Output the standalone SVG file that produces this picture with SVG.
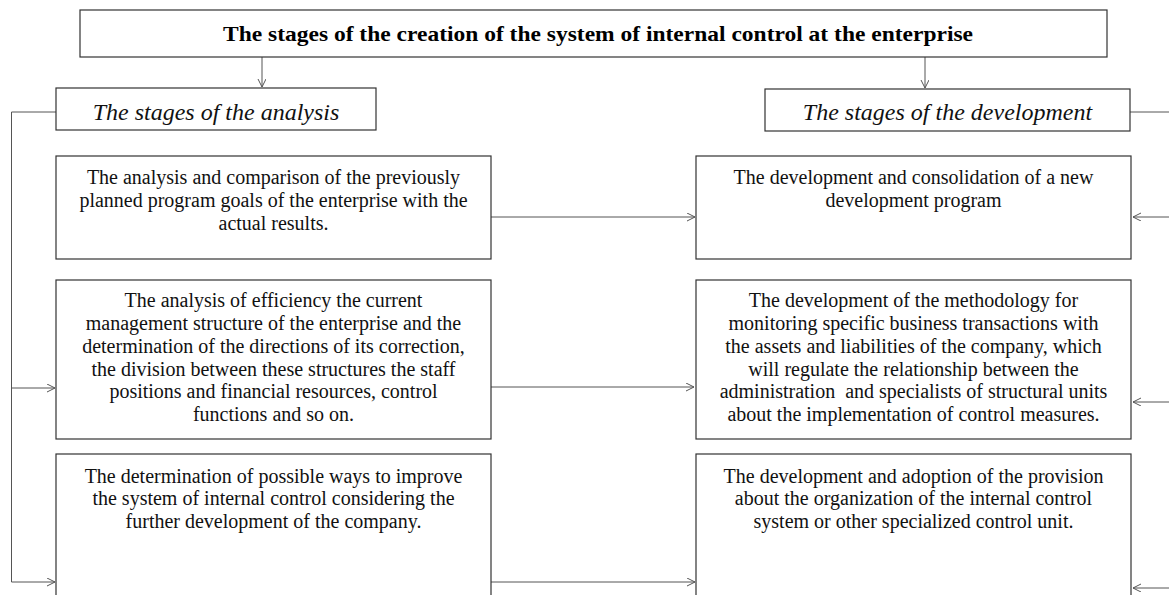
<svg xmlns="http://www.w3.org/2000/svg" width="1169" height="595" viewBox="0 0 1169 595">
<style>
.box{fill:#fff;stroke:#333;stroke-width:1.2}
.t{font-family:"Liberation Serif","Times New Roman",serif;font-size:20px;fill:#111;text-anchor:middle}
.h{font-family:"Liberation Serif","Times New Roman",serif;font-size:24px;font-style:italic;fill:#111;text-anchor:middle}
.ttl{font-family:"Liberation Serif","Times New Roman",serif;font-size:22px;font-weight:bold;fill:#000;text-anchor:middle}
.c{fill:none;stroke:#555;stroke-width:1}
</style>
<defs>
<marker id="ah" markerUnits="userSpaceOnUse" markerWidth="10" markerHeight="10" refX="8" refY="4" orient="auto">
<path d="M0,0 L8,4 L0,8" fill="none" stroke="#555" stroke-width="1"/>
</marker>
</defs>
<rect width="1169" height="595" fill="#fff"/>
<g id="connectors">
<path class="c" d="M262,57 V87" marker-end="url(#ah)"/>
<path class="c" d="M925,57 V88" marker-end="url(#ah)"/>
<path class="c" d="M56,112 H11.5 V582 H55" marker-end="url(#ah)"/>
<path class="c" d="M11.5,388 H55" marker-end="url(#ah)"/>
<path class="c" d="M1130,112 H1175"/>
<path class="c" d="M491,217 H695" marker-end="url(#ah)"/>
<path class="c" d="M491,387 H694" marker-end="url(#ah)"/>
<path class="c" d="M491,582 H695" marker-end="url(#ah)"/>
<path class="c" d="M1175,217 H1133" marker-end="url(#ah)"/>
<path class="c" d="M1175,402 H1133" marker-end="url(#ah)"/>
<path class="c" d="M1175,588 H1133" marker-end="url(#ah)"/>
</g>
<g id="title">
<rect class="box" x="80" y="10" width="1027" height="47"/>
<text class="ttl" x="598" y="40.5" textLength="750" lengthAdjust="spacingAndGlyphs">The stages of the creation of the system of internal control at the enterprise</text>
</g>
<g id="analysis-header">
<rect class="box" x="56" y="88" width="320" height="42"/>
<text class="h" x="216" y="120">The stages of the analysis</text>
</g>
<g id="development-header">
<rect class="box" x="765" y="89" width="365" height="42"/>
<text class="h" x="947.5" y="120">The stages of the development</text>
</g>
<g id="analysis-1">
<rect class="box" x="56" y="156" width="435" height="103"/>
<text class="t" x="273.5" y="184">The analysis and comparison of the previously</text>
<text class="t" x="273.5" y="207">planned program goals of the enterprise with the</text>
<text class="t" x="273.5" y="230">actual results.</text>
</g>
<g id="analysis-2">
<rect class="box" x="56" y="280" width="435" height="159"/>
<text class="t" x="273.5" y="307">The analysis of efficiency the current</text>
<text class="t" x="273.5" y="330">management structure of the enterprise and the</text>
<text class="t" x="273.5" y="353">determination of the directions of its correction,</text>
<text class="t" x="273.5" y="376">the division between these structures the staff</text>
<text class="t" x="273.5" y="398">positions and financial resources, control</text>
<text class="t" x="273.5" y="421">functions and so on.</text>
</g>
<g id="analysis-3">
<rect class="box" x="56" y="454" width="435" height="160"/>
<text class="t" x="273.5" y="483">The determination of possible ways to improve</text>
<text class="t" x="273.5" y="505">the system of internal control considering the</text>
<text class="t" x="273.5" y="528">further development of the company.</text>
</g>
<g id="development-1">
<rect class="box" x="696" y="156" width="435" height="103"/>
<text class="t" x="913.5" y="184">The development and consolidation of a new</text>
<text class="t" x="913.5" y="207">development program</text>
</g>
<g id="development-2">
<rect class="box" x="696" y="280" width="435" height="159"/>
<text class="t" x="913.5" y="307">The development of the methodology for</text>
<text class="t" x="913.5" y="330">monitoring specific business transactions with</text>
<text class="t" x="913.5" y="353">the assets and liabilities of the company, which</text>
<text class="t" x="913.5" y="376">will regulate the relationship between the</text>
<text class="t" x="913.5" y="398" xml:space="preserve">administration  and specialists of structural units</text>
<text class="t" x="913.5" y="421">about the implementation of control measures.</text>
</g>
<g id="development-3">
<rect class="box" x="696" y="454" width="435" height="160"/>
<text class="t" x="913.5" y="483">The development and adoption of the provision</text>
<text class="t" x="913.5" y="505">about the organization of the internal control</text>
<text class="t" x="913.5" y="528">system or other specialized control unit.</text>
</g>
</svg>
